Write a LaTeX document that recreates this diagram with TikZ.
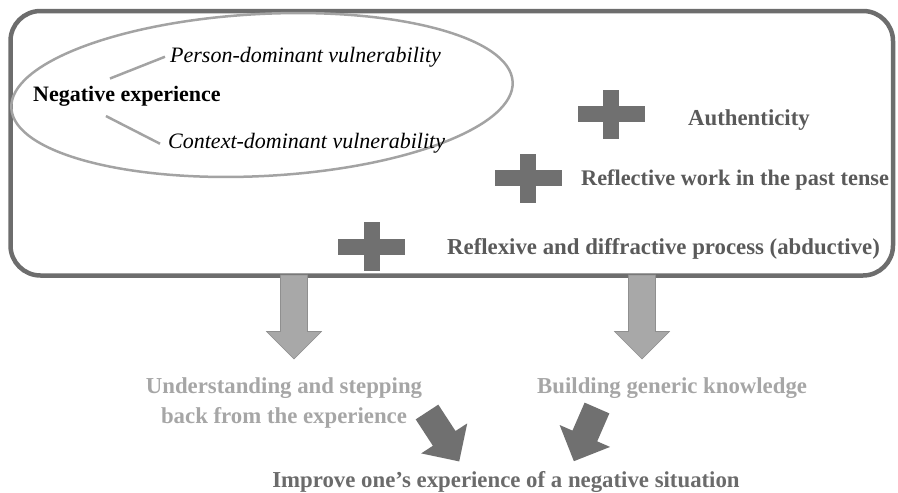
\documentclass[tikz,border=0pt]{standalone}
\usepackage{fontspec}
\setmainfont{Liberation Serif}
\usetikzlibrary{positioning,calc}
\definecolor{framegray}{HTML}{6D6D6D}
\definecolor{ringgray}{HTML}{A3A3A3}
\definecolor{plusgray}{HTML}{707070}
\definecolor{darktext}{HTML}{5A5A5A}
\definecolor{midtext}{HTML}{6B6B6B}
\definecolor{lighttext}{HTML}{A6A6A6}
\definecolor{arrowfill}{HTML}{A8A8A8}
\definecolor{arrowline}{HTML}{8F8F8F}
\tikzset{
  txt/.style={inner sep=0pt, anchor=base west, font=\fontsize{22.8}{30}\selectfont},
  boldtxt/.style={txt, font=\fontsize{22.8}{30}\selectfont\bfseries},
  plus/.pic={
    \fill[plusgray] (-33.5,-8) rectangle (33.5,8);
    \fill[plusgray] (-8,-24.5) rectangle (8,24.5);
  },
  barrow/.pic={
    \path[pic actions] (0,-13.5) -- (#1-27.5,-13.5) -- (#1-27.5,-27.5) -- (#1,0)
      -- (#1-27.5,27.5) -- (#1-27.5,13.5) -- (0,13.5) -- cycle;
  }
}
\begin{document}
\begin{tikzpicture}[x=1pt,y=-1pt]
\useasboundingbox (0,0) rectangle (898,493);
% frame and ellipse
\draw[framegray, line width=4.5pt, rounded corners=30pt] (10.5,11) rectangle (893,275.5);
\draw[ringgray, line width=2.5pt, rotate around={3:(262,95)}] (262,95) ellipse [x radius=251, y radius=81];
% texts in the ellipse
\node[boldtxt, font=\fontsize{22}{30}\selectfont\bfseries] (neg) at (33,101) {Negative experience};
\node[txt, font=\fontsize{22}{30}\selectfont\itshape] (pers) at (170,62) {Person-dominant vulnerability};
\node[txt, font=\fontsize{22}{30}\selectfont\itshape] (ctx) at (168,148) {Context-dominant vulnerability};
\draw[ringgray, line width=2.5pt] ($(neg.north)+(-17,-7)$) -- ($(pers.west)+(-5,0)$);
\draw[ringgray, line width=2.5pt] ($(neg.south)+(-21,10)$) -- ($(ctx.west)+(-8,1)$);
% plus signs
\pic at (611,114) {plus};
\pic at (528,178) {plus};
\pic at (371.5,246.5) {plus};
\node[boldtxt, text=darktext] (auth) at (688,125) {Authenticity};
\node[boldtxt, text=darktext, font=\fontsize{22.3}{30}\selectfont\bfseries] (refl) at (581,185) {Reflective work in the past tense};
\node[boldtxt, text=darktext] (abd) at (447,254) {Reflexive and diffractive process (abductive)};
% outcomes
\pic[fill=arrowfill, draw=arrowline, line width=0.6pt, rotate=-90] at (294,275) {barrow=84};
\pic[fill=arrowfill, draw=arrowline, line width=0.6pt, rotate=-90] at (642,275) {barrow=84};
\node[boldtxt, text=lighttext, align=center, anchor=north] (und) at (284,377)
  {Understanding and stepping\\back from the experience};
\node[boldtxt, text=lighttext] (bld) at (537,393) {Building generic knowledge};
\pic[fill=plusgray, rotate=-56.9] at (427,412) {barrow=59};
\pic[fill=plusgray, rotate=-113.5] at (597,408) {barrow=58};
\node[boldtxt, text=midtext, anchor=base] (imp) at (506,487) {Improve one’s experience of a negative situation};
\end{tikzpicture}
\end{document}
